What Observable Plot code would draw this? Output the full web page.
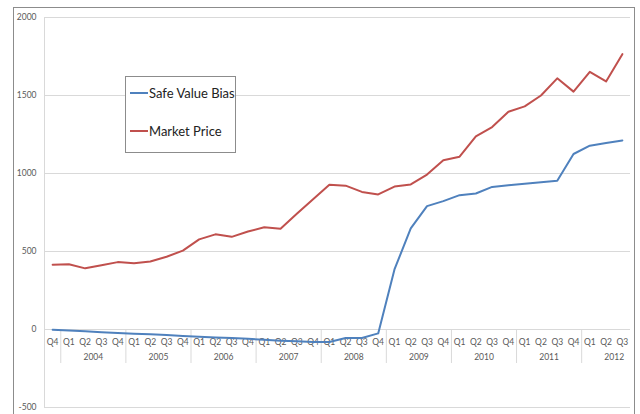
<!DOCTYPE html>
<html>
<head>
<meta charset="utf-8">
<script src="https://cdn.jsdelivr.net/npm/d3@7"></script>
<script src="https://cdn.jsdelivr.net/npm/@observablehq/plot@0.6"></script>
<style>
  html, body { margin: 0; padding: 0; background: #fff; }
  #wrap { position: relative; width: 640px; height: 414px; overflow: hidden; }
  #frame { position: absolute; left: 13px; top: 7px; width: 622px; height: 440px;
           border: 1px solid #8c8c8c; box-sizing: border-box; pointer-events: none; }
  #legend { position: absolute; left: 125px; top: 76px; width: 111px; height: 77px;
            border: 1px solid #8c8c8c; box-sizing: border-box; background: #fff;
            font-family: Lato, "Open Sans", sans-serif; font-size: 13px; color: #222; }
  .row { position: absolute; left: 4px; display: flex; align-items: center; }
  .sw { width: 18px; height: 2px; margin-right: 1px; }
</style>
</head>
<body>
<div id="wrap">
  <div id="chart"></div>
  <div id="frame"></div>
  <div id="legend">
    <div class="row" style="top:8px"><span class="sw" style="background:#4f81bd"></span>Safe Value Bias</div>
    <div class="row" style="top:46px"><span class="sw" style="background:#c0504d"></span>Market Price</div>
  </div>
</div>
<script>
const quarters = ["Q4",
  "Q1","Q2","Q3","Q4", "Q1","Q2","Q3","Q4", "Q1","Q2","Q3","Q4", "Q1","Q2","Q3","Q4",
  "Q1","Q2","Q3","Q4", "Q1","Q2","Q3","Q4", "Q1","Q2","Q3","Q4", "Q1","Q2","Q3","Q4",
  "Q1","Q2","Q3"];
const years = ["2004","2005","2006","2007","2008","2009","2010","2011","2012"];
const marketPrice = [415,
  418,392,412,432, 424,436,466,506, 578,610,594,628, 655,646,742,835,
  928,922,882,866, 916,930,993,1085, 1108,1238,1298,1396, 1430,1500,1610,1525,
  1652,1590,1765];
const safeValueBias = [-2,
  -7,-12,-17,-22, -27,-31,-36,-41, -46,-51,-55,-60, -66,-72,-76,-80,
  -80,-55,-54,-25, 385,648,791,823, 861,872,914,925, 935,944,954,1125,
  1178,1195,1212];
const yTicks = [-500, 0, 500, 1000, 1500, 2000];

const idx = quarters.map((q, i) => i);
const seriesRows = idx.flatMap(i => [
  {i, v: safeValueBias[i], s: "Safe Value Bias"},
  {i, v: marketPrice[i], s: "Market Price"}
]);
const yearStarts = idx.filter(i => quarters[i] === "Q1");
const separators = yearStarts.map(i => i - 0.5);
const yearLabels = yearStarts.map((i, k) => ({x: i + 1.5, label: years[k]}));

const chart = Plot.plot({
  width: 640,
  height: 414,
  marginLeft: 44,
  marginRight: 10,
  marginTop: 17,
  marginBottom: 7,
  style: {fontFamily: "Lato, 'Open Sans', sans-serif", fontSize: "8.5px", color: "#595959", background: "#fff", overflow: "visible"},
  x: {domain: [-0.5, quarters.length - 0.5], axis: null},
  y: {domain: [-500, 2000]},
  color: {domain: ["Safe Value Bias", "Market Price"], range: ["#4f81bd", "#c0504d"]},
  marks: [
    Plot.gridY(yTicks, {stroke: "#d9d9d9", strokeOpacity: 1, strokeWidth: 1}),
    Plot.ruleX([-0.5], {stroke: "#d9d9d9", strokeWidth: 1}),
    Plot.ruleX(separators, {y1: 0, y2: 0, insetBottom: -34, stroke: "#d9d9d9"}),
    Plot.axisY(yTicks, {tickSize: 0, tickPadding: 8, tickFormat: d => String(d), fill: "#595959", fontSize: 8.5, label: null}),
    Plot.text(idx, {x: i => i, y: () => 0, dy: 13, text: i => quarters[i], fill: "#595959", fontSize: 8.5}),
    Plot.text(yearLabels, {x: "x", y: () => 0, dy: 28, text: "label", fill: "#595959", fontSize: 8.5}),
    Plot.line(seriesRows, {x: "i", y: "v", z: "s", stroke: "s", strokeWidth: 2, strokeLinejoin: "round"})
  ]
});
document.getElementById("chart").appendChild(chart);
</script>
</body>
</html>
